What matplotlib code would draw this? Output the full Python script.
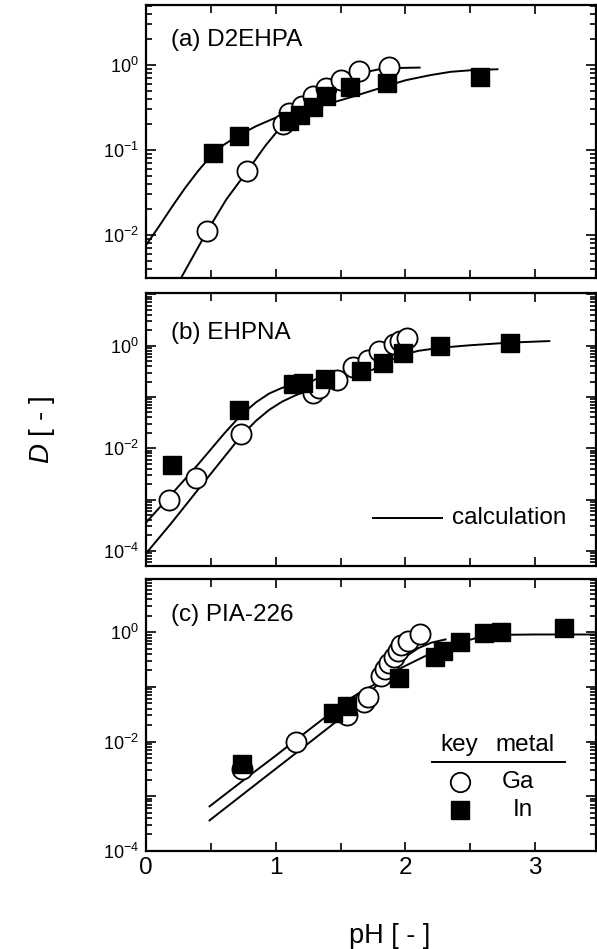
import numpy as np
import matplotlib
matplotlib.use("Agg")
import matplotlib.pyplot as plt
from matplotlib.ticker import LogLocator, FuncFormatter, MultipleLocator, NullFormatter

plt.rcParams['font.family'] = ['Liberation Sans', 'DejaVu Sans']
plt.rcParams['mathtext.fontset'] = 'custom'
plt.rcParams['mathtext.rm'] = 'Liberation Sans'
plt.rcParams['mathtext.it'] = 'Liberation Sans:italic'
plt.rcParams['mathtext.bf'] = 'Liberation Sans:bold'

# ---------------- data ----------------
# (a) D2EHPA
ga_a_ph = [0.47, 0.78, 1.06, 1.10, 1.20, 1.29, 1.39, 1.50, 1.64, 1.87]
ga_a_D = [0.011, 0.056, 0.20, 0.27, 0.33, 0.43, 0.54, 0.66, 0.85, 0.95]
in_a_ph = [0.514, 0.72, 1.10, 1.19, 1.285, 1.39, 1.57, 1.86, 2.575]
in_a_D = [0.093, 0.145, 0.22, 0.26, 0.32, 0.43, 0.55, 0.61, 0.73]
ga_a_calc_ph = [0.25, 0.47, 0.62, 0.78, 0.92, 1.06, 1.18, 1.29, 1.40, 1.52, 1.67, 1.80, 1.95, 2.11]
ga_a_calc_D = [0.00275, 0.011, 0.0263, 0.0562, 0.112, 0.204, 0.295, 0.389, 0.501, 0.631,
               0.813, 0.891, 0.923, 0.933]
in_a_calc_ph = [0.0, 0.1, 0.2, 0.3, 0.4, 0.5, 0.6, 0.7, 0.85, 1.0, 1.2, 1.4, 1.6, 1.83,
                2.0, 2.19, 2.35, 2.52, 2.71]
in_a_calc_D = [0.00759, 0.0126, 0.0214, 0.0355, 0.0562, 0.0851, 0.115, 0.145, 0.191, 0.240,
               0.288, 0.347, 0.427, 0.550, 0.661, 0.759, 0.832, 0.871, 0.891]

# (b) EHPNA
ga_b_ph = [0.18, 0.385, 0.73, 1.285, 1.336, 1.47, 1.60, 1.71, 1.80, 1.91, 1.96, 2.01]
ga_b_D = [0.0010, 0.0026, 0.019, 0.12, 0.148, 0.216, 0.39, 0.53, 0.78, 1.06, 1.23, 1.43]
in_b_ph = [0.198, 0.72, 1.136, 1.21, 1.38, 1.66, 1.83, 1.98, 2.27, 2.81]
in_b_D = [0.0047, 0.056, 0.178, 0.19, 0.22, 0.32, 0.47, 0.72, 0.99, 1.15]
ga_b_calc_ph = [0.0, 0.2, 0.4, 0.6, 0.73, 0.85, 0.95, 1.05, 1.15, 1.26, 1.4, 1.5, 1.6,
                1.7, 1.8, 1.9, 2.0, 2.09]
ga_b_calc_D = [8.9e-5, 3.6e-4, 1.55e-3, 6.6e-3, 0.017, 0.0347, 0.0562, 0.0813, 0.107,
               0.138, 0.200, 0.263, 0.355, 0.490, 0.692, 0.933, 1.12, 1.20]
in_b_calc_ph = [0.0, 0.2, 0.4, 0.6, 0.73, 0.85, 0.95, 1.05, 1.15, 1.25, 1.35, 1.5, 1.66,
                1.83, 1.98, 2.1, 2.27, 2.5, 2.81, 3.11]
in_b_calc_D = [3.55e-4, 1.3e-3, 4.8e-3, 0.019, 0.0437, 0.0794, 0.117, 0.151, 0.178,
               0.195, 0.209, 0.251, 0.324, 0.457, 0.661, 0.794, 0.912, 1.02, 1.15, 1.23]

# (c) PIA-226
ga_c_ph = [0.74, 1.157, 1.55, 1.68, 1.71, 1.81, 1.84, 1.87, 1.91, 1.94, 1.97, 2.02, 2.11]
ga_c_D = [0.0032, 0.010, 0.030, 0.052, 0.066, 0.158, 0.21, 0.27, 0.36, 0.46, 0.58, 0.69, 0.95]
in_c_ph = [0.74, 1.44, 1.55, 1.95, 2.23, 2.29, 2.42, 2.61, 2.74, 3.22]
in_c_D = [0.0038, 0.034, 0.045, 0.148, 0.36, 0.45, 0.66, 0.98, 1.0, 1.2]
ga_c_calc_ph = [0.49, 0.8, 1.0, 1.2, 1.4, 1.55, 1.65, 1.78, 1.9, 2.0, 2.1, 2.2, 2.31]
ga_c_calc_D = [3.6e-4, 1.35e-3, 3.16e-3, 7.4e-3, 0.0174, 0.0331, 0.0525, 0.107, 0.209,
               0.355, 0.513, 0.646, 0.741]
in_c_calc_ph = [0.49, 0.8, 1.0, 1.2, 1.39, 1.55, 1.65, 1.78, 1.9, 1.97, 2.14, 2.34, 2.6,
                2.8, 3.0, 3.47]
in_c_calc_D = [6.5e-4, 2.4e-3, 5.5e-3, 0.0129, 0.0288, 0.0562, 0.0794, 0.117, 0.174,
               0.224, 0.355, 0.575, 0.851, 0.902, 0.912, 0.912]

panel_titles = ['(a) D2EHPA', '(b) EHPNA', '(c) PIA-226']
ylims = [(10 ** -2.506, 10 ** 0.706), (10 ** -4.294, 10 ** 1.027), (0.99e-4, 10 ** 0.976)]
x_ticks = [0, 1, 2, 3]

# ---------------- figure ----------------
W, H = 597, 949
fig = plt.figure(figsize=(W / 100, H / 100), dpi=100)

def fx(px):
    return px / W

def fy(px):
    return 1 - px / H

left_px, right_px = 146, 596
boxes = [(5, 278), (293, 566), (579, 851)]

datasets = [
    (ga_a_ph, ga_a_D, in_a_ph, in_a_D, ga_a_calc_ph, ga_a_calc_D, in_a_calc_ph, in_a_calc_D),
    (ga_b_ph, ga_b_D, in_b_ph, in_b_D, ga_b_calc_ph, ga_b_calc_D, in_b_calc_ph, in_b_calc_D),
    (ga_c_ph, ga_c_D, in_c_ph, in_c_D, ga_c_calc_ph, ga_c_calc_D, in_c_calc_ph, in_c_calc_D),
]

TXT = 17.5

axes = []
for i, (top, bot) in enumerate(boxes):
    ax = fig.add_axes([fx(left_px), fy(bot), fx(right_px - left_px), (bot - top) / H])
    axes.append(ax)
    gph, gD, iph, iD, gcph, gcD, icph, icD = datasets[i]
    ax.set_yscale('log')
    ax.plot(gcph, gcD, color='black', lw=1.4, zorder=2)
    ax.plot(icph, icD, color='black', lw=1.4, zorder=2)
    ax.plot(gph, gD, ls='none', marker='o', ms=14.5, mfc='white', mec='black', mew=1.3, zorder=3)
    ax.plot(iph, iD, ls='none', marker='s', ms=12.5, mfc='black', mec='black', zorder=4)
    ax.set_xlim(0, 3.47)
    ax.set_ylim(*ylims[i])
    ax.xaxis.set_major_locator(MultipleLocator(1))
    ax.xaxis.set_minor_locator(MultipleLocator(0.5))
    ax.yaxis.set_major_locator(LogLocator(base=10, numticks=20))
    ax.yaxis.set_minor_locator(LogLocator(base=10, subs=np.arange(2, 10), numticks=20))
    if i == 0:
        fmt = FuncFormatter(lambda v, p: r'$10^{%d}$' % int(round(np.log10(v))))
    else:
        fmt = FuncFormatter(lambda v, p: (r'$10^{%d}$' % int(round(np.log10(v))))
                            if int(round(np.log10(v))) % 2 == 0 else '')
    ax.yaxis.set_major_formatter(fmt)
    ax.yaxis.set_minor_formatter(NullFormatter())
    ax.tick_params(which='both', direction='in', top=True, right=True, width=1.2)
    ax.tick_params(axis='y', which='major', length=7, labelsize=13, pad=5)
    ax.tick_params(axis='y', which='minor', length=4)
    ax.tick_params(axis='x', which='major', length=6.5, labelsize=17.5, pad=4.5)
    ax.tick_params(axis='x', which='minor', length=5.5)
    if i < 2:
        ax.tick_params(axis='x', labelbottom=False)
    else:
        ax.set_xticks(x_ticks)
        ax.set_xticklabels([str(t) for t in x_ticks])
    for s in ax.spines.values():
        s.set_linewidth(1.6)
    ax.text(0.056, [0.872, 0.852, 0.868][i], panel_titles[i], transform=ax.transAxes,
            fontsize=TXT, ha='left', va='center')

# calculation legend in panel (b)
axb = axes[1]
axb.plot([0.504, 0.657], [0.177, 0.177], transform=axb.transAxes, color='black', lw=1.4)
axb.text(0.679, 0.177, 'calculation', transform=axb.transAxes, fontsize=TXT,
         ha='left', va='center')

# key legend in panel (c)
axc = axes[2]
axc.text(0.695, 0.39, 'key', transform=axc.transAxes, fontsize=TXT, ha='center', va='center')
axc.text(0.843, 0.39, 'metal', transform=axc.transAxes, fontsize=TXT, ha='center', va='center')
axc.plot([0.635, 0.931], [0.328, 0.328], transform=axc.transAxes, color='black', lw=1.4)
axc.plot([0.698], [0.255], transform=axc.transAxes, marker='o', ms=14, mfc='white',
         mec='black', mew=1.3, ls='none')
axc.text(0.827, 0.255, 'Ga', transform=axc.transAxes, fontsize=TXT, ha='center', va='center')
axc.plot([0.698], [0.151], transform=axc.transAxes, marker='s', ms=13, mfc='black',
         mec='black', ls='none')
axc.text(0.838, 0.151, 'In', transform=axc.transAxes, fontsize=TXT, ha='center', va='center')

# axis labels
fig.text(fx(42), fy(430), r'$D$ [ - ]', rotation=90, fontsize=20, ha='center', va='center')
fig.text(fx(390), fy(936), 'pH [ - ]', fontsize=19.5, ha='center', va='center')

fig.savefig('out.png', dpi=100)
